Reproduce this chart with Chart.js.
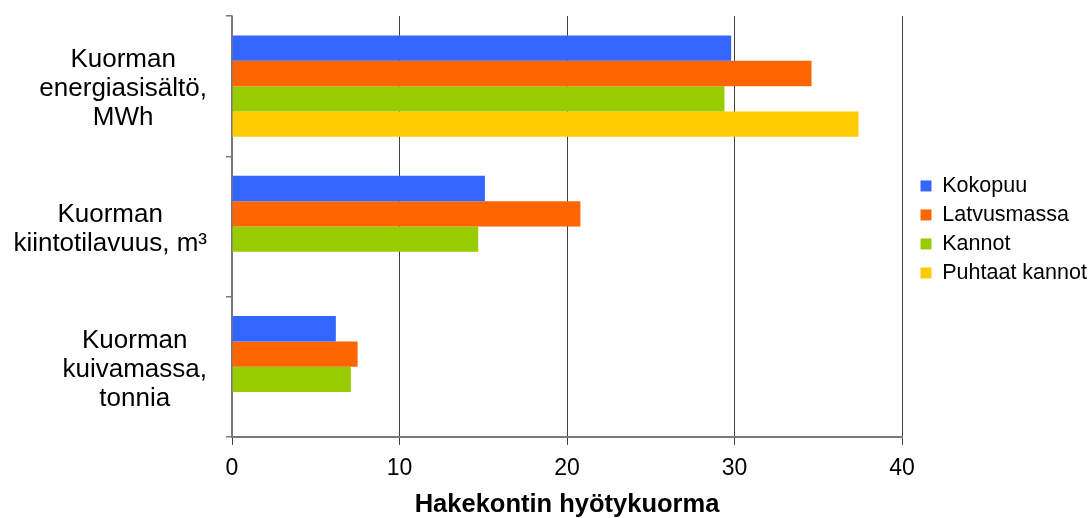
<!DOCTYPE html>
<html>
<head>
<meta charset="utf-8">
<script src="https://cdn.jsdelivr.net/npm/chart.js@4.4.1/dist/chart.umd.min.js"></script>
<style>
  html, body { margin: 0; padding: 0; background: #ffffff; }
  #wrap { width: 1092px; height: 518px; }
</style>
</head>
<body>
<div id="wrap"><canvas id="chart" width="1092" height="518"></canvas></div>
<script>
// Category labels (one array entry per line of text)
const categories = [
  ['Kuorman', 'energiasisältö,', 'MWh'],
  ['Kuorman', 'kiintotilavuus, m³'],
  ['Kuorman', 'kuivamassa,', 'tonnia']
];

const seriesNames = ['Kokopuu', 'Latvusmassa', 'Kannot', 'Puhtaat kannot'];

// Values per category, in the order of `categories`
const kokopuu       = [29.8, 15.1, 6.2];
const latvusmassa   = [34.6, 20.8, 7.5];
const kannot        = [29.4, 14.7, 7.1];
const puhtaatKannot = [37.4, null, null];

const xMin = 0;
const xMax = 40;
const xStep = 10;
const xTitle = 'Hakekontin hyötykuorma';

const seriesColors = ['#3366ff', '#ff6600', '#99cc00', '#ffcc00'];
const seriesValues = [kokopuu, latvusmassa, kannot, puhtaatKannot];

const FONT = '"Liberation Sans", Arial, Helvetica, sans-serif';

// Multi-line category labels: each block right-aligned to the axis,
// its lines centred within the block.
const categoryLabels = {
  id: 'categoryLabels',
  afterDraw(chart) {
    const scale = chart.scales.y;
    const ctx = chart.ctx;
    ctx.save();
    ctx.font = '26px ' + FONT;
    ctx.fillStyle = '#000000';
    ctx.textAlign = 'center';
    ctx.textBaseline = 'alphabetic';
    const right = scale.right - 25;
    const lineStep = 29;
    categories.forEach((lines, i) => {
      const py = scale.getPixelForTick(i);
      const w = Math.max(...lines.map(l => ctx.measureText(l).width));
      const cx = right - w / 2;
      lines.forEach((line, j) => {
        ctx.fillText(line, cx, py + 10 + (j - (lines.length - 1) / 2) * lineStep);
      });
    });
    ctx.restore();
  }
};

// Moves the legend block a little to the right and down.
const legendNudge = {
  id: 'legendNudge',
  afterLayout(chart) {
    const lg = chart.legend;
    if (!lg) return;
    lg.left += 11; lg.right += 11;
    lg.top += 3; lg.bottom += 3;
  }
};

new Chart(document.getElementById('chart'), {
  type: 'bar',
  data: {
    labels: categories,
    datasets: seriesNames.map((name, i) => ({
      label: name,
      data: seriesValues[i],
      backgroundColor: seriesColors[i],
      borderWidth: 0,
      barPercentage: 1.0,
      categoryPercentage: 0.722
    }))
  },
  options: {
    indexAxis: 'y',
    responsive: false,
    animation: false,
    devicePixelRatio: 1,
    layout: { padding: { top: 16, left: 0, right: 10, bottom: 0 } },
    plugins: {
      tooltip: { enabled: false },
      legend: {
        position: 'right',
        align: 'center',
        fullSize: false,
        maxWidth: 180,
        labels: {
          boxWidth: 11,
          boxHeight: 11,
          padding: 7.5,
          color: '#000000',
          font: { family: FONT, size: 21.5 }
        }
      }
    },
    scales: {
      x: {
        type: 'linear',
        position: 'bottom',
        min: xMin,
        max: xMax,
        ticks: {
          stepSize: xStep,
          padding: 10,
          color: '#000000',
          font: { family: FONT, size: 23, lineHeight: 1.2 }
        },
        grid: {
          color: c => (c.index === 0 ? '#7a7a7a' : '#404040'),
          lineWidth: 1,
          drawTicks: true,
          tickLength: 8,
          tickColor: '#404040'
        },
        border: { color: '#7a7a7a', width: 2 },
        title: {
          display: true,
          text: xTitle,
          color: '#000000',
          font: { family: FONT, size: 25.5, weight: 'bold', lineHeight: 1.0 },
          padding: { top: 0, bottom: 0 }
        }
      },
      y: {
        type: 'category',
        offset: true,
        ticks: { display: false },
        grid: {
          offset: true,
          drawOnChartArea: false,
          drawTicks: true,
          tickLength: 6,
          color: '#7a7a7a',
          lineWidth: 1.5
        },
        border: { color: '#7a7a7a', width: 1.5 },
        afterFit(scale) { scale.width = 232; }
      }
    }
  },
  plugins: [categoryLabels, legendNudge]
});
</script>
</body>
</html>
